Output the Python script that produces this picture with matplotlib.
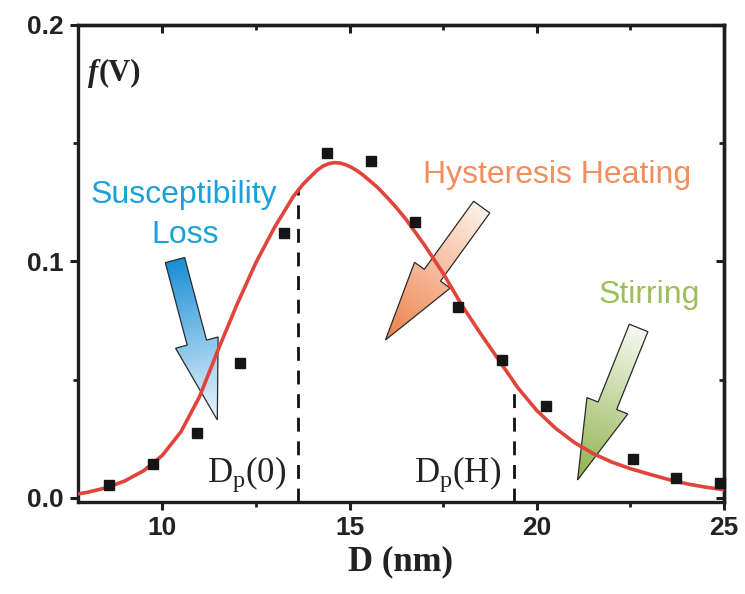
import numpy as np
import matplotlib
matplotlib.use("Agg")
import matplotlib.pyplot as plt
from matplotlib.patches import Polygon
from matplotlib.colors import LinearSegmentedColormap
from matplotlib.ticker import MultipleLocator

# ---------------- data ----------------
D_points = [8.59, 9.76, 10.92, 12.08, 13.25, 14.41, 15.58, 16.74, 17.91, 19.07, 20.24, 22.57, 23.73, 24.90]
f_points = [0.0055, 0.0142, 0.0276, 0.057, 0.112, 0.1457, 0.1425, 0.1168, 0.0809, 0.0584, 0.0389, 0.0164, 0.0083, 0.0063]

D_fit = [7.75, 8.0, 8.5, 9.0, 9.5, 10.0, 10.5, 11.0, 11.5, 12.0, 12.5, 13.0, 13.5, 13.75, 14.0,
         14.15, 14.3, 14.45, 14.6, 14.75, 14.9, 15.05, 15.2, 15.35, 15.5, 15.75, 16.0, 16.25, 16.5,
         17.0, 17.5, 18.0, 18.5, 19.0, 19.5, 20.0, 20.5, 21.0, 21.5, 22.0, 22.5, 23.0, 23.5, 24.0,
         24.5, 25.0]
f_fit = [0.0017, 0.0024, 0.0043, 0.0072, 0.0115, 0.018, 0.028, 0.043, 0.063, 0.082, 0.0995, 0.1145,
         0.1275, 0.1325, 0.1365, 0.1388, 0.1404, 0.1414, 0.1418, 0.1416, 0.1409, 0.1398, 0.1384,
         0.1367, 0.1347, 0.1313, 0.1272, 0.1228, 0.1180, 0.1070, 0.0950, 0.0815, 0.0695, 0.0580,
         0.0465, 0.0370, 0.0295, 0.0235, 0.0188, 0.0152, 0.0124, 0.0101, 0.0079, 0.0060, 0.0046,
         0.0035]

Dp0 = 13.63
DpH = 19.38
f_Dp0 = 0.131
f_DpH = 0.049

x_ticks = [10, 15, 20, 25]
y_ticks = [0.0, 0.1, 0.2]
y_ticklabels = ["0.0", "0.1", "0.2"]

# ---------------- figure ----------------
W, H = 745, 594
fig = plt.figure(figsize=(W / 100, H / 100), dpi=100)
ax = fig.add_axes([78 / W, 1 - 502 / H, (724 - 78) / W, (502 - 25) / H])
ax.set_xlim(7.75, 25)
ax.set_ylim(-0.0017, 0.2)
ax.set_autoscale_on(False)

spine_c = "#1e1e1e"
for s in ax.spines.values():
    s.set_linewidth(2.4)
    s.set_color(spine_c)

ax.set_xticks(x_ticks)
ax.xaxis.set_minor_locator(MultipleLocator(2.5))
ax.set_yticks(y_ticks)
ax.set_yticklabels(y_ticklabels)
ax.yaxis.set_minor_locator(MultipleLocator(0.05))
ax.tick_params(which="major", direction="out", length=6, width=2.2, color=spine_c,
               labelsize=19, pad=4)
ax.tick_params(which="minor", direction="out", length=3.5, width=2.0, color=spine_c)
for lab in ax.get_xticklabels() + ax.get_yticklabels():
    lab.set_fontfamily("Liberation Sans")
    lab.set_fontweight("bold")
    lab.set_color("#222222")

# inward ticks on top and right
secx = ax.secondary_xaxis("top")
secx.set_xticks(x_ticks)
secx.xaxis.set_minor_locator(MultipleLocator(2.5))
secx.tick_params(which="major", direction="in", length=6, width=2.2, color=spine_c, labeltop=False)
secx.tick_params(which="minor", direction="in", length=3.5, width=2.0, color=spine_c)
secx.spines["top"].set_linewidth(2.4)
secy = ax.secondary_yaxis("right")
secy.set_yticks(y_ticks)
secy.yaxis.set_minor_locator(MultipleLocator(0.05))
secy.tick_params(which="major", direction="in", length=6, width=2.2, color=spine_c, labelright=False)
secy.tick_params(which="minor", direction="in", length=3.5, width=2.0, color=spine_c)
secy.spines["right"].set_linewidth(2.4)

ax.set_xlabel("D (nm)", fontfamily="Liberation Serif", fontweight="bold", fontsize=25,
              color="#222222", labelpad=4)

# ---------------- gradient arrows ----------------
def grad_arrow(tail, tip, c_tail, c_tip, shaft=20, head=44, hlen=80):
    T = ax.transData
    p0 = np.array(T.transform(tail))
    p1 = np.array(T.transform(tip))
    d = p1 - p0
    L = np.hypot(*d)
    u = d / L
    n = np.array([-u[1], u[0]])
    base = p1 - u * hlen
    pts = np.array([p0 + n * shaft / 2, base + n * shaft / 2, base + n * head / 2, p1,
                    base - n * head / 2, base - n * shaft / 2, p0 - n * shaft / 2])
    dpts = T.inverted().transform(pts)
    poly = Polygon(dpts, closed=True, facecolor="none", edgecolor="#2a2a2a", lw=0.9, zorder=5)
    ax.add_patch(poly)
    x0, y0 = dpts.min(axis=0)
    x1, y1 = dpts.max(axis=0)
    gx, gy = np.meshgrid(np.linspace(x0, x1, 300), np.linspace(y0, y1, 300))
    disp = T.transform(np.column_stack([gx.ravel(), gy.ravel()]))
    t = ((disp - p0) @ u) / L
    t = np.clip(t, 0, 1).reshape(gx.shape)
    cmap = LinearSegmentedColormap.from_list("g", [c_tail, c_tip])
    im = ax.imshow(cmap(t), extent=[x0, x1, y0, y1], origin="lower", aspect="auto",
                   zorder=4, interpolation="bilinear")
    im.set_clip_path(poly)

grad_arrow((10.34, 0.1006), (11.47, 0.033), "#1a8ed6", "#eef7fc")
grad_arrow((18.53, 0.123), (15.96, 0.0668), "#fdf0e8", "#ee8048")
grad_arrow((22.72, 0.0719), (21.09, 0.0076), "#f6f8ef", "#8fb24c")

# ---------------- data drawing ----------------
ax.vlines([Dp0, DpH], [-0.0017, -0.0017], [f_Dp0, f_DpH], colors="#111111",
          linestyles=(0, (5, 3.5)), linewidth=2.0, zorder=3)
ax.plot(D_fit, f_fit, color="#e0443a", lw=2.6, zorder=6, solid_joinstyle="round")
ax.plot(D_points, f_points, "s", color="#151515", markersize=6.5, zorder=7, clip_on=False)

# ---------------- texts ----------------
t1 = ax.text(8.02, 0.1765, "f", fontfamily="Liberation Serif", fontstyle="italic",
             fontweight="bold", fontsize=22, color="#222222", va="baseline")
ax.annotate("(V)", xy=(1, 0), xycoords=t1, fontfamily="Liberation Serif", fontweight="bold",
            fontsize=22, color="#222222", va="bottom", ha="left")

ax.text(11.2, 0.0068, r"$\mathregular{D_p(0)}$", fontfamily="Liberation Serif", fontsize=25,
        color="#222222", va="baseline", ha="left")
ax.text(16.71, 0.0068, r"$\mathregular{D_p(H)}$", fontfamily="Liberation Serif", fontsize=25,
        color="#222222", va="baseline", ha="left")

txt_kw = dict(fontfamily="Liberation Sans", fontsize=23, ha="center", va="baseline", zorder=8)
ax.text(10.58, 0.1247, "Susceptibility", color="#1aa2d8", **txt_kw)
ax.text(10.61, 0.1078, "Loss", color="#1aa2d8", **txt_kw)
ax.text(20.53, 0.1332, "Hysteresis Heating", color="#f28e5c", **txt_kw)
ax.text(22.99, 0.0825, "Stirring", color="#9cbf5a", **txt_kw)

fig.savefig("out.png", dpi=100)
